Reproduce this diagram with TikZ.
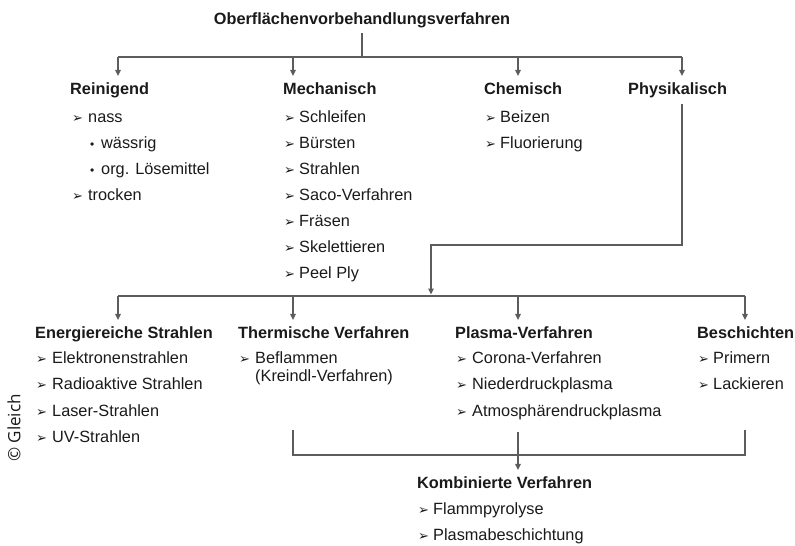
\documentclass[tikz,border=0pt]{standalone}
\usepackage{fontspec}
\setmainfont{Liberation Sans}
\newfontfamily\arrfont{DejaVu Sans}
\newfontfamily\cpfont{Open Sans}
\usetikzlibrary{arrows.meta}
\definecolor{txt}{HTML}{1A1A1A}
\definecolor{lnc}{HTML}{5C5C5C}
\tikzset{
  basetxt/.style={inner sep=0pt, anchor=base west, text=txt, font=\fontsize{16.3}{19}\selectfont},
  hdr/.style={basetxt, font=\fontsize{16.3}{19}\selectfont\bfseries},
  itm/.style={basetxt},
  mk/.style={inner sep=0pt, anchor=base west, text=txt, font=\arrfont\fontsize{13}{15}\selectfont},
  bul/.style={inner sep=0pt, anchor=base west, text=txt, font=\fontsize{12}{14}\selectfont},
  ln/.style={draw=lnc, line width=1.3pt},
  arr/.style={ln, -{Triangle[length=6pt,width=5.5pt]}, shorten >=6pt}
}
\begin{document}
\begin{tikzpicture}[x=1pt,y=-1pt]
\useasboundingbox (0,0) rectangle (795,546);

% title
\node[hdr, anchor=base] (title) at (362,24) {Oberflächenvorbehandlungsverfahren};

% upper headers
\node[hdr] (rein) at (70,94) {Reinigend};
\node[hdr] (mech) at (283,94) {Mechanisch};
\node[hdr] (chem) at (484,94) {Chemisch};
\node[hdr] (phys) at (628,94) {Physikalisch};

% Reinigend items
\node[mk] (rm1) at (72,122) {➢};  \node[itm] (rt1) at (88,122) {nass};
\node[bul] (rb2) at (90,148) {•}; \node[itm] (rt2) at (101,148) {wässrig};
\node[bul] (rb3) at (90,174) {•}; \node[itm] (rt3) at (101,174) {org. Lösemittel};
\node[mk] (rm4) at (72,200) {➢};  \node[itm] (rt4) at (88,200) {trocken};

% Mechanisch items
\foreach \t [count=\i from 0] in {Schleifen,Bürsten,Strahlen,Saco-Verfahren,Fräsen,Skelettieren,Peel Ply}{
  \node[mk] (mm\i) at (284,{122+26*\i}) {➢};
  \node[itm] (mt\i) at (299,{122+26*\i}) {\t};
}

% Chemisch items
\foreach \t [count=\i from 0] in {Beizen,Fluorierung}{
  \node[mk] (cm\i) at (485,{122+26*\i}) {➢};
  \node[itm] (ct\i) at (500,{122+26*\i}) {\t};
}

% upper connectors
\coordinate (t0) at (362,57);
\coordinate (bA) at (118,57);
\coordinate (bB) at (293,57);
\coordinate (bC) at (518,57);
\coordinate (bD) at (682,57);
\draw[ln] ([yshift=-5.5pt]title.south) -- (t0);
\draw[ln] (bA) -- (bD);
\draw[arr] (bA) -- (bA |- rein.north);
\draw[arr] (bB) -- (bB |- mech.north);
\draw[arr] (bC) -- (bC |- chem.north);
\draw[arr] (bD) -- (bD |- phys.north);

% lower line
\coordinate (c1) at (431,245);
\coordinate (lA) at (118,296);
\coordinate (lB) at (293,296);
\coordinate (lC) at (518,296);
\coordinate (lD) at (745,296);
\draw[ln] (lA) -- (lD);
\draw[arr, shorten >=1.5pt] ([yshift=-6pt]phys.south -| bD) |- (c1) -- (c1 |- lA);

% lower headers
\node[hdr] (ener) at (35,338) {Energiereiche Strahlen};
\node[hdr] (therm) at (238,338) {Thermische Verfahren};
\node[hdr] (plas) at (455,338) {Plasma-Verfahren};
\node[hdr] (besch) at (697,338) {Beschichten};

\draw[arr] (lA) -- (lA |- ener.north);
\draw[arr] (lB) -- (lB |- therm.north);
\draw[arr] (lC) -- (lC |- plas.north);
\draw[arr] (lD) -- (lD |- besch.north);

% Energiereiche items
\foreach \t [count=\i from 0] in {Elektronenstrahlen,Radioaktive Strahlen,Laser-Strahlen,UV-Strahlen}{
  \node[mk] (em\i) at (36,{363+26.6*\i}) {➢};
  \node[itm] (et\i) at (52,{363+26.6*\i}) {\t};
}
% Thermische items
\node[mk] (tm0) at (239,363) {➢};
\node[itm] (tt0) at (255,363) {Beflammen};
\node[itm] (tt1) at (255,381) {(Kreindl-Verfahren)};
% Plasma items
\foreach \t [count=\i from 0] in {Corona-Verfahren,Niederdruckplasma,Atmosphärendruckplasma}{
  \node[mk] (pm\i) at (456,{363+26.6*\i}) {➢};
  \node[itm] (pt\i) at (472,{363+26.6*\i}) {\t};
}
% Beschichten items
\foreach \t [count=\i from 0] in {Primern,Lackieren}{
  \node[mk] (bm\i) at (698,{363+26.6*\i}) {➢};
  \node[itm] (bt\i) at (713,{363+26.6*\i}) {\t};
}

% bracket
\coordinate (k1) at (293,430);
\coordinate (k2) at (745,430);
\coordinate (kc) at (518,455);
\coordinate (k3) at (518,432);
\draw[ln] (k1) |- (kc) -| (k2);

\node[hdr] (komb) at (417,488) {Kombinierte Verfahren};
\draw[arr] (k3) -- (k3 |- komb.north);
\foreach \t [count=\i from 0] in {Flammpyrolyse,Plasmabeschichtung}{
  \node[mk] (km\i) at (418,{514+26*\i}) {➢};
  \node[itm] (kt\i) at (433,{514+26*\i}) {\t};
}

% copyright
\node[rotate=90, inner sep=0pt, text=txt, font=\cpfont\fontsize{17}{19}\selectfont] (copy) at (14,428) {© Gleich};
\end{tikzpicture}
\end{document}
